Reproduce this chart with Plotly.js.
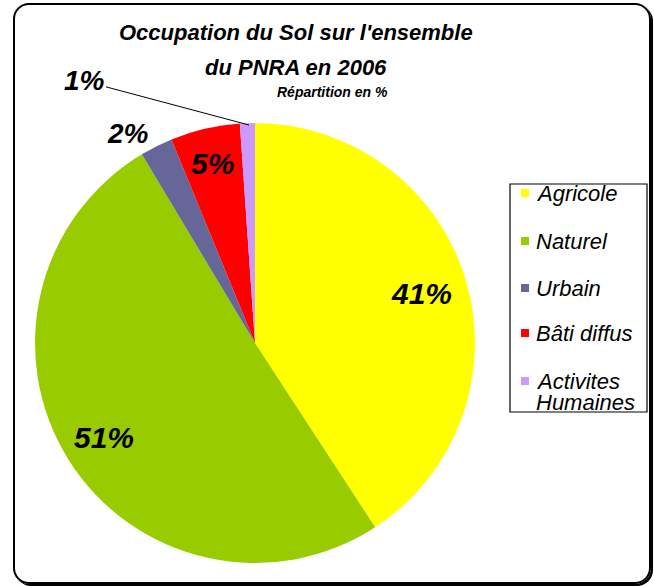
<!DOCTYPE html>
<html>
<head>
<meta charset="utf-8">
<script src="https://cdn.plot.ly/plotly-3.0.1.min.js"></script>
<style>
  html, body { margin: 0; padding: 0; background: #ffffff; }
  #wrap { position: relative; width: 654px; height: 586px; overflow: hidden; }
  #chart { position: absolute; left: 0; top: 0; width: 654px; height: 586px; }
  #frame { position: absolute; left: 13px; top: 3px; width: 634px; height: 577px;
           border: 2px solid #000; border-radius: 16px; box-shadow: 2px 2px 0 #000;
           pointer-events: none; }
</style>
</head>
<body>
<div id="wrap">
  <div id="chart"></div>
  <div id="frame"></div>
</div>
<script>
// ---- data ----
const categories = ['Agricole', 'Naturel', 'Urbain', 'Bâti diffus', 'Activites Humaines'];
const legendLabels = [['Agricole'], ['Naturel'], ['Urbain'], ['Bâti diffus'], ['Activites', 'Humaines']];
const values = [40.8, 50.6, 2.4, 5.1, 1.1];
const colors = ['#FFFF00', '#99CC00', '#666699', '#FF0000', '#CC99FF'];
const titleLines = ["Occupation du Sol sur l'ensemble", 'du PNRA en 2006'];
const subtitleText = 'Répartition en %';

const W = 654, H = 586;
const px = x => x / W;
const py = y => 1 - y / H;

const fontFam = '"Liberation Sans", Arial, sans-serif';
const boldIt = (size) => ({ family: fontFam, size: size, color: '#000', weight: 'bold', style: 'italic' });

// pie geometry (pixels)
const cx = 255, cy = 343, R = 220;

const trace = {
  type: 'pie',
  labels: categories,
  values: values,
  sort: false,
  direction: 'clockwise',
  rotation: 0,
  marker: { colors: colors, line: { width: 0 } },
  domain: { x: [px(cx - R), px(cx + R)], y: [py(cy + R), py(cy - R)] },
  texttemplate: ['', '', '%{percent:.0%}', '', ''],
  textposition: ['none', 'none', 'outside', 'none', 'none'],
  insidetextorientation: 'horizontal',
  textfont: boldIt(28),
  outsidetextfont: boldIt(28),
  automargin: false,
  showlegend: false,
  hoverinfo: 'label+percent'
};

const shapes = [];
const annotations = [];

// title lines
const titleY = [33, 67];
titleLines.forEach((t, i) => {
  annotations.push({
    xref: 'paper', yref: 'paper', x: px(296), y: py(titleY[i]),
    xanchor: 'center', yanchor: 'middle', showarrow: false,
    text: t, font: boldIt(22)
  });
});
annotations.push({
  xref: 'paper', yref: 'paper', x: px(333), y: py(92),
  xanchor: 'center', yanchor: 'middle', showarrow: false,
  text: subtitleText, font: boldIt(14)
});

// inside percentage labels, placed along each slice's mid angle
const total = values.reduce((a, b) => a + b, 0);
const insideFrac = [0.79, 0.81, null, 0.84, null];
let cum = 0;
values.forEach((v, i) => {
  const mid = (cum + v / 2) / total * 2 * Math.PI;
  cum += v;
  if (insideFrac[i] === null) return;
  const x = cx + R * insideFrac[i] * Math.sin(mid);
  const y = cy - R * insideFrac[i] * Math.cos(mid);
  annotations.push({
    xref: 'paper', yref: 'paper', x: px(x), y: py(y),
    xanchor: 'center', yanchor: 'middle', showarrow: false,
    text: Math.round(v / total * 100) + '%', font: boldIt(30)
  });
});

// leader label for the smallest slice
annotations.push({
  xref: 'paper', yref: 'paper', x: px(249), y: py(125),
  ax: -165, ay: -44, showarrow: true, arrowhead: 0, arrowwidth: 1, arrowcolor: '#000',
  text: Math.round(values[4] / total * 100) + '%',
  font: boldIt(28)
});

// custom legend (box, swatches, text) built from the data arrays
shapes.push({
  type: 'rect', xref: 'paper', yref: 'paper',
  x0: px(510), x1: px(647), y0: py(184), y1: py(412),
  line: { color: '#000', width: 1.2 }, fillcolor: 'rgba(0,0,0,0)'
});
const rowY = [193, 241, 288, 333, 381];
const lineGap = 21;
categories.forEach((c, i) => {
  shapes.push({
    type: 'rect', xref: 'paper', yref: 'paper',
    x0: px(521), x1: px(529), y0: py(rowY[i] + 4), y1: py(rowY[i] - 4),
    line: { width: 0 }, fillcolor: colors[i]
  });
  legendLabels[i].forEach((line, k) => {
    annotations.push({
      xref: 'paper', yref: 'paper', x: px(534), y: py(rowY[i] + k * lineGap),
      xanchor: 'left', yanchor: 'middle', align: 'left', showarrow: false,
      text: line,
      font: { family: fontFam, size: 22, color: '#000', style: 'italic' }
    });
  });
});

const layout = {
  width: W, height: H,
  margin: { l: 0, r: 0, t: 0, b: 0 },
  paper_bgcolor: '#ffffff',
  plot_bgcolor: '#ffffff',
  showlegend: false,
  shapes: shapes,
  annotations: annotations
};

Plotly.newPlot('chart', [trace], layout, { displayModeBar: false, staticPlot: true });
</script>
</body>
</html>
